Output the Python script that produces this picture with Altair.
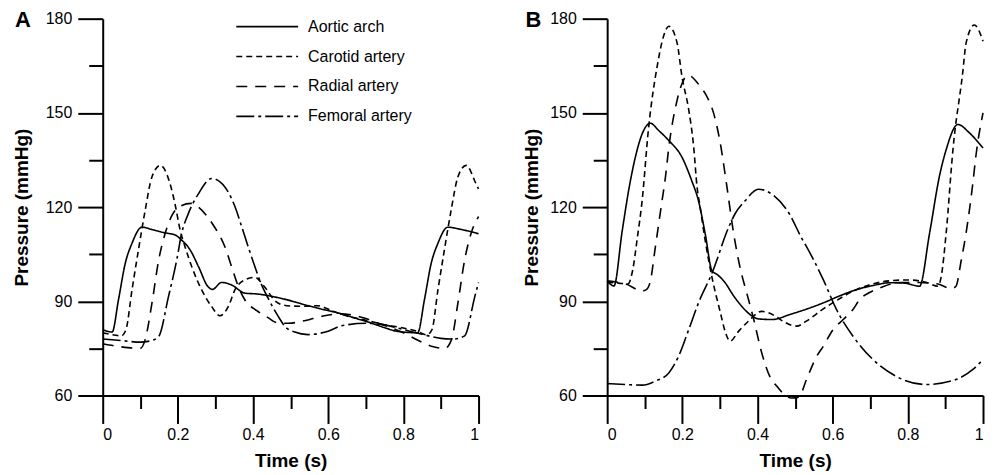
import altair as alt
import pandas as pd

SERIES = ["Aortic arch", "Carotid artery", "Radial artery", "Femoral artery"]
DASHES = [[1, 0], [6, 4], [11, 8], [18, 4, 3, 4]]
PANELS = ["A", "B"]
Y_TICKS = [60, 75, 90, 105, 120, 135, 150, 165, 180]
X_TICKS = [0, 0.1, 0.2, 0.3, 0.4, 0.5, 0.6, 0.7, 0.8, 0.9, 1.0]

# ---------------- Panel A ----------------
a_aortic_t = [0, .025, .042, .06, .078, .104, .13, .166, .193, .21, .233, .255, .28, .292, .316, .343, .378,
              .414, .449, .49, .538, .58, .626, .67, .714, .75, .785, .838, .856, .874, .892, .918, .953, 1.0]
a_aortic_p = [81, 80.2, 90.5, 102.1, 108.5, 113.6, 112.9, 111.8, 111.1, 109.5, 106.3, 101, 94.7, 93.8, 96, 95.2,
              92.6, 92.3, 91.6, 90.5, 88.9, 87.6, 86.3, 84.7, 83.1, 81.6, 80.4, 80, 90.5, 102.1, 108.5, 113.6,
              112.9, 111.5]

a_carotid_t = [0, .03, .05, .062, .078, .095, .113, .131, .153, .179, .193, .206, .219, .237, .263, .29, .312,
               .334, .352, .378, .405, .43, .46, .49, .53, .57, .62, .66, .7, .75, .8, .84, .862, .876, .892,
               .909, .927, .945, .967, .993, 1.0]
a_carotid_p = [80, 79.3, 79, 81, 93.7, 106.3, 119, 129.6, 133.3, 127.5, 120.6, 112.7, 107.4, 101, 93.7, 88.3,
               85.4, 88.3, 93.7, 96.8, 97.6, 94.7, 90, 88.6, 88.4, 88.6, 86.5, 85, 84, 82.5, 81.5, 80.3, 79.3,
               81, 93.7, 106.3, 119, 129.6, 133.3, 127.5, 125.8]

a_radial_t = [0, .05, .1, .113, .131, .149, .166, .185, .205, .235, .255, .275, .294, .325, .343, .361, .378,
              .41, .44, .463, .495, .524, .56, .59, .63, .67, .7, .75, .8, .84, .88, .91, .928, .945, .963,
              .98, 1.0]
a_radial_p = [76.5, 75.5, 75, 77.8, 89.4, 103.2, 111.6, 117.5, 120.2, 121.2, 120, 117.5, 114.3, 107.4, 101,
              94.7, 90.5, 87, 84.8, 83.2, 83, 83.5, 84.5, 85.4, 86, 85.5, 84.5, 82.3, 80, 77.5, 75.5, 75,
              77.8, 89.4, 103.2, 111.6, 117]

a_femoral_t = [0, .05, .1, .13, .149, .175, .197, .21, .228, .255, .29, .325, .352, .37, .387, .405, .42, .44,
               .467, .485, .511, .546, .6, .635, .7, .75, .8, .85, .9, .935, .963, .99, 1.0]
a_femoral_p = [78, 77.5, 77, 77.5, 78.8, 91.5, 103.2, 111.6, 118, 124.3, 129.1, 126.4, 120.1, 113.7, 107.4,
               101, 96, 91, 85.2, 82, 80.2, 79.4, 80.5, 82.2, 83, 82.5, 81, 79.5, 78.2, 78, 79, 91.5, 96]

# ---------------- Panel B ----------------
b_aortic_t = [0, .018, .04, .057, .075, .093, .115, .137, .164, .199, .225, .243, .261, .279, .292, .314, .335,
              .358, .38, .402, .44, .486, .53, .575, .62, .663, .71, .751, .79, .831, .858, .884, .902, .933,
              .964, 1.0]
b_aortic_p = [96.5, 94.9, 112.4, 125.2, 135.9, 143.3, 146.7, 144.4, 141.2, 135.9, 128.4, 122, 111.4, 99.7, 98.6,
              95.9, 92, 88.4, 85.8, 84.4, 84.2, 85.8, 87.5, 89.5, 91.8, 93.7, 95.1, 95.9, 95.8, 94.8, 111.8,
              129.8, 138.3, 146.3, 143.6, 138.8]

b_carotid_t = [0, .03, .055, .068, .08, .093, .11, .133, .15, .164, .186, .199, .217, .23, .239, .247, .26, .28,
               .3, .315, .327, .35, .376, .411, .447, .47, .504, .53, .575, .6, .663, .75, .8, .85, .88, .889,
               .902, .92, .946, .955, .977, 1.0]
b_carotid_p = [96, 95.8, 95.5, 100, 110, 122, 145, 164.8, 174.4, 177.6, 172.3, 161.6, 151, 139.4, 126.6, 120.3,
               110, 97, 87, 80, 77.3, 80.5, 83.7, 86.8, 85.3, 83.5, 82.1, 83.7, 87.6, 89.5, 93.7, 96.5, 96.8,
               96, 94.8, 98, 111.8, 138.3, 162.8, 172.3, 178, 172.8]

b_radial_t = [0, .05, .093, .105, .115, .128, .137, .146, .155, .164, .186, .199, .215, .247, .265, .283, .3,
              .318, .336, .355, .371, .39, .411, .433, .451, .47, .49, .51, .53, .557, .575, .601, .628, .654,
              .672, .698, .73, .78, .83, .88, .915, .928, .942, .955, .973, .981, 1.0]
b_radial_p = [96.5, 95.5, 93.3, 93.8, 96.5, 107.1, 114.6, 122, 129.5, 139, 154, 159.3, 162, 158.5, 155.3, 150,
              141, 127, 112, 100, 92.8, 84.2, 73.7, 66, 63, 60.5, 59.2, 59.5, 65, 72.4, 75.7, 81, 84.2, 87.4,
              90.6, 92.8, 94.5, 96, 96, 95.5, 94, 94.8, 103, 111.8, 127.7, 136.2, 150]

b_femoral_t = [0, .05, .093, .128, .164, .19, .217, .243, .279, .323, .34, .367, .402, .442, .486, .517, .53,
               .575, .61, .654, .707, .769, .849, .928, .973, 1.0]
b_femoral_p = [63.8, 63.5, 63.3, 64.6, 67.2, 72.5, 81, 89.5, 99, 113.5, 117.8, 122, 125.7, 123.8, 117.6, 110.2,
               107.5, 96.9, 87.4, 78.9, 71.5, 66.1, 63.5, 65.1, 68.3, 71.5]

FONT = "Liberation Sans"


def frame(pairs):
    rows = []
    for name, ts, ps in pairs:
        for i, (t, p) in enumerate(zip(ts, ps)):
            rows.append({"series": name, "t": t, "p": p, "order": i})
    return pd.DataFrame(rows)


df_a = frame([(SERIES[0], a_aortic_t, a_aortic_p), (SERIES[1], a_carotid_t, a_carotid_p),
              (SERIES[2], a_radial_t, a_radial_p), (SERIES[3], a_femoral_t, a_femoral_p)])
df_b = frame([(SERIES[0], b_aortic_t, b_aortic_p), (SERIES[1], b_carotid_t, b_carotid_p),
              (SERIES[2], b_radial_t, b_radial_p), (SERIES[3], b_femoral_t, b_femoral_p)])


def x_axis():
    return alt.Axis(
        title="Time (s)", values=X_TICKS,
        labelExpr="round(datum.value*10) % 2 === 0 ? toString(round(datum.value*10)/10) : ''",
        tickSize={"condition": {"test": "round(datum.value*10) % 2 === 0", "value": 28}, "value": 13},
        labelPadding=3, titlePadding=9, grid=False,
    )


def y_axis(title_pad):
    return alt.Axis(
        title="Pressure (mmHg)", values=Y_TICKS,
        labelExpr="datum.value % 30 === 0 ? datum.label : ''",
        tickSize={"condition": {"test": "datum.value % 30 === 0", "value": 25}, "value": 14},
        labelPadding=6, titlePadding=title_pad, grid=False,
    )


def panel(df, letter, letter_dx, with_legend, title_pad):
    if with_legend:
        legend = alt.Legend(
            title=None, orient="none", legendX=183, legendY=0,
            symbolType="M-11.4,0H1", symbolSize=100, symbolStrokeWidth=1.6,
            symbolStrokeColor="black", labelFont=FONT, labelFontSize=16, labelColor="black",
            labelOffset=7, rowPadding=14, padding=0,
        )
    else:
        legend = None
    lines = alt.Chart(df).mark_line(color="black", strokeWidth=1.6, interpolate="monotone").encode(
        x=alt.X("t:Q", scale=alt.Scale(domain=[0, 1], nice=False), axis=x_axis()),
        y=alt.Y("p:Q", scale=alt.Scale(domain=[60, 180], nice=False, zero=False), axis=y_axis(title_pad)),
        strokeDash=alt.StrokeDash("series:N", scale=alt.Scale(domain=SERIES, range=DASHES), legend=legend),
        detail="series:N",
        order="order:Q",
    )
    label = alt.Chart(pd.DataFrame({"label": [letter]})).mark_text(
        font=FONT, fontSize=22, fontWeight="bold", align="center", baseline="middle", color="black"
    ).encode(text="label:N", x=alt.value(letter_dx), y=alt.value(1))
    return alt.layer(lines, label).properties(width=377, height=378)


chart = alt.hconcat(
    panel(df_a, PANELS[0], -80, True, 14),
    panel(df_b, PANELS[1], -74, False, 8),
    spacing=129, bounds="flush",
).resolve_scale(strokeDash="independent").configure_axis(
    labelFont=FONT, labelFontSize=16, labelColor="black",
    titleFont=FONT, titleFontSize=19, titleFontWeight="bold", titleColor="black",
    domainColor="black", domainWidth=2, tickColor="black", tickWidth=2,
).configure_view(stroke=None).properties(
    padding={"left": 4, "top": 0, "right": 0, "bottom": 0}
)

chart.save("out.html", embed_options={"renderer": "svg", "actions": False})
